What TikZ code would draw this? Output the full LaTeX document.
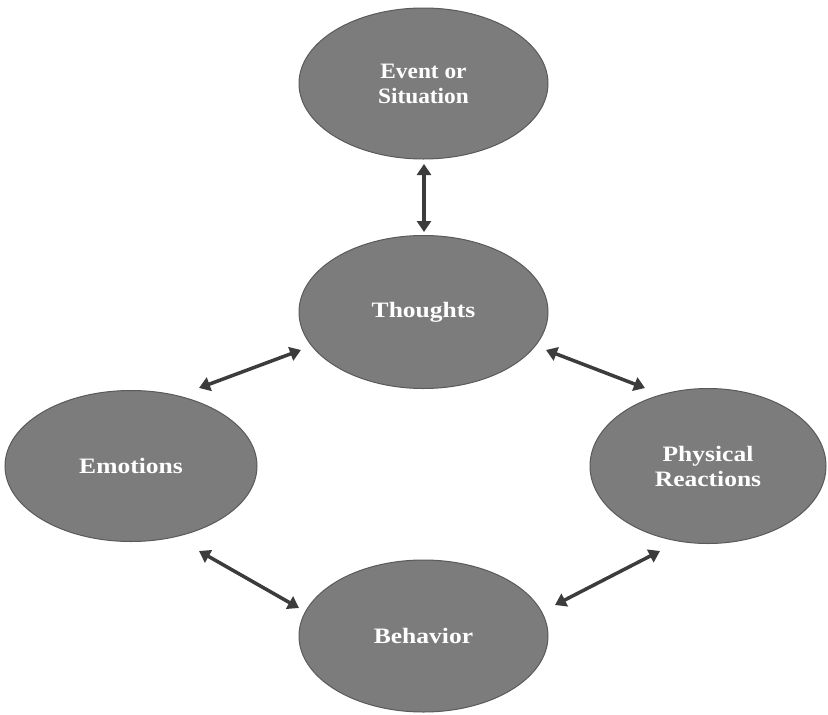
\documentclass[tikz,border=0pt]{standalone}
\usepackage{fontspec}
\setmainfont{Liberation Serif}
\newfontfamily\widefont[FakeStretch=1.16]{Liberation Serif}
\newfontfamily\halfwidefont[FakeStretch=1.06]{Liberation Serif}
\usetikzlibrary{arrows.meta,shapes.geometric}
\definecolor{ovalfill}{HTML}{7C7C7C}
\definecolor{ovalline}{HTML}{5A5A5A}
\definecolor{linkcol}{HTML}{3C3C3C}
\tikzset{
  oval/.style={ellipse, draw=ovalline, line width=1pt, fill=ovalfill,
    text=white, font=\widefont\bfseries\fontsize{22}{25}\selectfont, align=center,
    inner sep=0pt},
  link/.style={draw=linkcol, line width=3.5pt,
    {Triangle[length=11pt,width=14pt]}-{Triangle[length=11pt,width=14pt]}}
}
\begin{document}
\begin{tikzpicture}[x=1pt,y=-1pt]
  \useasboundingbox (0,0) rectangle (828,715);
  \fill[white] (0,0) rectangle (828,715);
  \node[oval, font=\halfwidefont\bfseries\fontsize{22}{25}\selectfont,
        minimum width=249pt, minimum height=151pt] (event) at (423.5,83.5) {Event or\\Situation};
  \node[oval, minimum width=249pt, minimum height=153pt] (thoughts) at (423.5,312) {Thoughts};
  \node[oval, minimum width=252pt, minimum height=151pt] (emotions) at (131,466) {Emotions};
  \node[oval, minimum width=236pt, minimum height=155pt] (physical) at (708,466) {Physical\\Reactions};
  \node[oval, minimum width=249pt, minimum height=152pt] (behavior) at (423.5,636) {Behavior};
  \coordinate (a1) at (424,164);  \coordinate (a2) at (424,232);
  \coordinate (b1) at (301,350);  \coordinate (b2) at (199,388);
  \coordinate (c1) at (546,350);  \coordinate (c2) at (645,388);
  \coordinate (d1) at (199,551);  \coordinate (d2) at (299,608);
  \coordinate (e1) at (660,551);  \coordinate (e2) at (555,605);
  \draw[link] (a1) -- (a2);
  \draw[link] (b1) -- (b2);
  \draw[link] (c1) -- (c2);
  \draw[link] (d1) -- (d2);
  \draw[link] (e1) -- (e2);
\end{tikzpicture}
\end{document}
